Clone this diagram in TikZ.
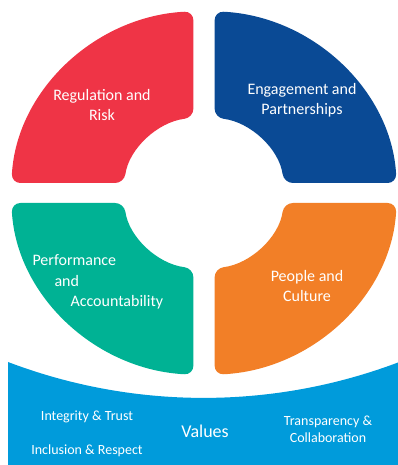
\documentclass[tikz,border=0pt]{standalone}
\usepackage{fontspec}
\setmainfont{Carlito}
\usepackage{xcolor}
\definecolor{riskred}{HTML}{EF3446}
\definecolor{partnerblue}{HTML}{0A4A95}
\definecolor{perfgreen}{HTML}{00B294}
\definecolor{cultureorange}{HTML}{F27F27}
\definecolor{valueblue}{HTML}{009BDB}
\usepackage{tikz}
\usetikzlibrary{positioning}

\begin{document}
\begin{tikzpicture}[x=1pt, y=1pt,
    segment/.style={rounded corners=9pt},
    seglabel/.style={text=white, align=center, anchor=base,
      font=\fontsize{16}{20}\selectfont},
    vallabel/.style={text=white, align=center, anchor=base,
      font=\fontsize{14}{17.5}\selectfont}]
  \useasboundingbox (0,0) rectangle (398,465);

  % --- Values band ---
  \fill[valueblue] (8,0) -- (8,103)
    arc[start angle=249.2, end angle=290.8, radius=551] -- (398,0) -- cycle;

  % --- Four segments ---
  \begin{scope}[shift={(204,272)}, xscale=1.06]
  \fill[riskred, segment] (93.15:182) arc[start angle=93.15, end angle=176.85, radius=182]
    -- (172.44:76) arc[start angle=172.44, end angle=97.56, radius=76] -- cycle;
  \fill[partnerblue, segment] (3.15:182) arc[start angle=3.15, end angle=86.85, radius=182]
    -- (82.44:76) arc[start angle=82.44, end angle=7.56, radius=76] -- cycle;
  \fill[perfgreen, segment] (183.15:182) arc[start angle=183.15, end angle=266.85, radius=182]
    -- (262.44:76) arc[start angle=262.44, end angle=187.56, radius=76] -- cycle;
  \fill[cultureorange, segment] (273.15:182) arc[start angle=273.15, end angle=356.85, radius=182]
    -- (352.44:76) arc[start angle=352.44, end angle=277.56, radius=76] -- cycle;
  \end{scope}

  % --- Segment labels (base = last line) ---
  \node[seglabel] (risk) at (102,344) {Regulation and\\Risk};
  \node[seglabel] (partner) at (302,350) {Engagement and\\Partnerships};
  \node[seglabel, anchor=base west] (perf1) at (29,199) {Performance};
  \node[seglabel, anchor=base west] (perf2) at (51,178) {and};
  \node[seglabel, anchor=base west] (perf3) at (67,158) {Accountability};
  \node[seglabel] (culture) at (307,163) {People and\\Culture};

  % --- Values labels ---
  \node[vallabel, font=\fontsize{18}{22}\selectfont] (values) at (205,27) {Values};
  \node[vallabel] (integrity) at (87,44) {Integrity \& Trust};
  \node[vallabel] (inclusion) at (87,10) {Inclusion \& Respect};
  \node[vallabel] (transparency) at (328,22) {Transparency \&\\Collaboration};
\end{tikzpicture}
\end{document}
